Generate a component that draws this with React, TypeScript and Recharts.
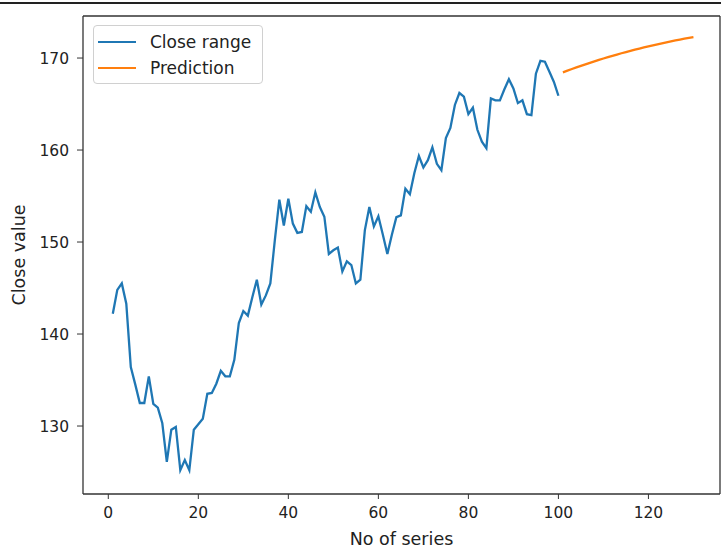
import React from 'react';
import { LineChart, Line, XAxis, YAxis, Label, ReferenceLine } from 'recharts';

const closeRange: number[] = [
  142.2, 144.8, 145.5, 143.3, 136.4, 134.5, 132.5, 132.5, 135.4, 132.4,
  132.0, 130.3, 126.1, 129.6, 129.9, 125.2, 126.3, 125.2, 129.6, 130.2,
  130.8, 133.5, 133.6, 134.6, 136.0, 135.4, 135.4, 137.2, 141.2, 142.5,
  142.0, 144.0, 145.9, 143.2, 144.2, 145.5, 150.2, 154.6, 151.8, 154.7,
  152.0, 151.0, 151.1, 153.9, 153.3, 155.4, 153.8, 152.75, 148.7, 149.1,
  149.4, 146.8, 147.9, 147.5, 145.5, 145.9, 151.3, 153.8, 151.7, 152.8,
  150.8, 148.7, 150.8, 152.7, 152.9, 155.8, 155.2, 157.5, 159.35, 158.1,
  158.9, 160.3, 158.5, 157.8, 161.3, 162.4, 164.9, 166.2, 165.8, 163.9,
  164.6, 162.2, 160.9, 160.2, 165.6, 165.4, 165.4, 166.6, 167.7, 166.7,
  165.1, 165.4, 163.9, 163.8, 168.3, 169.7, 169.6, 168.5, 167.4, 165.9,
];
const closeStart = 1;

const prediction: number[] = [
  168.45, 168.63, 168.81, 168.98, 169.15, 169.32, 169.48, 169.64, 169.80, 169.95,
  170.10, 170.24, 170.38, 170.52, 170.65, 170.78, 170.91, 171.03, 171.15, 171.27,
  171.38, 171.49, 171.60, 171.71, 171.81, 171.91, 172.01, 172.10, 172.19, 172.27,
];
const predictionStart = 101;

const xTicks = [0, 20, 40, 60, 80, 100, 120];
const yTicks = [130, 140, 150, 160, 170];
const xDomain: [number, number] = [-5.62, 135.9];
const yDomain: [number, number] = [122.61, 174.57];
const legendItems = [
  { name: 'Close range', color: '#1f77b4' },
  { name: 'Prediction', color: '#ff7f0e' },
];

const table = [
  ...closeRange.map((v, i) => ({ x: closeStart + i, close: v })),
  ...prediction.map((v, i) => ({ x: predictionStart + i, pred: v })),
];

const FONT = '"DejaVu Sans", sans-serif';
const AXIS = '#333333';

const LegendBox = () => (
  <div
    style={{
      position: 'absolute',
      left: 93,
      top: 25,
      width: 170,
      height: 59,
      boxSizing: 'border-box',
      border: '1px solid #d0d0d0',
      borderRadius: 4,
      background: 'rgba(255,255,255,0.85)',
      fontFamily: FONT,
      fontSize: 17,
      color: '#222',
    }}
  >
    {legendItems.map((r, i) => {
      const cy = 16 + i * 26;
      return (
        <div key={r.name}>
          <div
            style={{
              position: 'absolute',
              left: 4,
              top: cy - 1,
              width: 38,
              height: 2.2,
              background: r.color,
            }}
          />
          <div
            style={{
              position: 'absolute',
              left: 56,
              top: cy - 11,
              lineHeight: '22px',
              whiteSpace: 'nowrap',
            }}
          >
            {r.name}
          </div>
        </div>
      );
    })}
  </div>
);

const YLabel = (props: any) => {
  const vb = props.viewBox || { x: 0, y: 16, width: 83, height: 478 };
  const cx = vb.x + 19;
  const cy = vb.y + vb.height / 2;
  return (
    <text
      x={cx}
      y={cy}
      transform={`rotate(-90, ${cx}, ${cy})`}
      textAnchor="middle"
      dominantBaseline="central"
      fill="#222"
      fontFamily={FONT}
      fontSize={17.5}
    >
      Close value
    </text>
  );
};

const XLabel = (props: any) => {
  const vb = props.viewBox || { x: 83, y: 494, width: 637, height: 54 };
  const cx = vb.x + vb.width / 2;
  const cy = vb.y + 45;
  return (
    <text
      x={cx}
      y={cy}
      textAnchor="middle"
      dominantBaseline="central"
      fill="#222"
      fontFamily={FONT}
      fontSize={17.5}
    >
      No of series
    </text>
  );
};

export default function App() {
  return (
    <div style={{ position: 'absolute', left: 0, top: 0, width: 721, height: 548, background: '#fff', overflow: 'hidden' }}>
      <div style={{ position: 'absolute', left: 0, top: 2, width: 721, height: 2, background: '#222' }} />
      <LineChart
        width={721}
        height={548}
        data={table}
        margin={{ top: 16, right: 1, bottom: 0, left: 0 }}
        style={{ fontFamily: FONT }}
      >
        <XAxis
          dataKey="x"
          type="number"
          domain={xDomain}
          ticks={xTicks}
          allowDataOverflow
          height={54}
          tickSize={5}
          tickMargin={8}
          stroke={AXIS}
          tick={{ fill: '#222', fontSize: 15.5, fontFamily: FONT }}
          tickLine={{ stroke: AXIS }}
          axisLine={{ stroke: AXIS, strokeWidth: 1.3 }}
        >
          <Label content={<XLabel />} />
        </XAxis>
        <YAxis
          type="number"
          domain={yDomain}
          ticks={yTicks}
          allowDataOverflow
          width={83}
          tickSize={6}
          tickMargin={8}
          stroke={AXIS}
          tick={{ fill: '#222', fontSize: 15.5, fontFamily: FONT }}
          tickLine={{ stroke: AXIS }}
          axisLine={{ stroke: AXIS, strokeWidth: 1.3 }}
        >
          <Label content={<YLabel />} />
        </YAxis>
        <ReferenceLine y={yDomain[1]} stroke={AXIS} strokeWidth={1.3} ifOverflow="visible" />
        <ReferenceLine x={xDomain[1]} stroke={AXIS} strokeWidth={1.3} ifOverflow="visible" />
        <Line
          type="linear"
          dataKey="close"
          name="Close range"
          stroke={legendItems[0].color}
          strokeWidth={2.3}
          dot={false}
          activeDot={false}
          connectNulls={false}
          isAnimationActive={false}
        />
        <Line
          type="linear"
          dataKey="pred"
          name="Prediction"
          stroke={legendItems[1].color}
          strokeWidth={2.3}
          dot={false}
          activeDot={false}
          connectNulls={false}
          isAnimationActive={false}
        />
      </LineChart>
      <LegendBox />
    </div>
  );
}
